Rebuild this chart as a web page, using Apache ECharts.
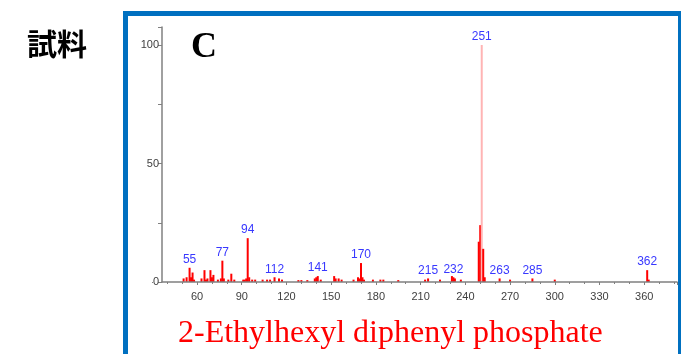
<!DOCTYPE html>
<html>
<head>
<meta charset="utf-8">
<script src="https://cdn.jsdelivr.net/npm/echarts@6/dist/echarts.min.js"></script>
<style>
html,body{margin:0;padding:0;background:#fff;}
#chart{width:681px;height:354px;}
</style>
</head>
<body>
<div id="chart"></div>
<script>
// m/z values of peaks
var mz = [51,53,55,56,57,58,63,65,66,67,69,70,71,74,76,77,78,81,83,85,91,92,93,94,95,97,99,104,107,109,112,115,117,128,130,134,139,140,141,143,152,153,155,157,165,168,169,170,171,172,178,183,185,195,213,215,223,231,232,233,237,249,250,251,252,253,263,270,285,300,362,363];
// relative intensities (%)
var intensity = [1.5,2,6,2,4,1,1.5,5,1,1.5,5,2,3,1,1.5,9,1.5,1,3.5,1,1,1,1.5,18.5,2,1,1,1,1,1,2,1.5,1,0.8,0.8,0.8,1.5,2,2.5,1,2.5,1.5,1.5,1,1,2,1.5,8,2,1,1,1,1,0.8,1,1.5,1,2.5,2,1.5,1,17,24,100,14,2,1.5,1,1.5,1,5,1];
// peaks that carry an m/z label
var labeledPeaks = [55,77,94,112,141,170,215,232,251,263,285,362];
var basePeak = 251;
var yTickLabels = [0,50,100];

// visible axis range and pixel layout
var xVisMin = 36.5, xVisMax = 382;
var tickMin = 30, tickStep = 30;
var plotLeft = 162, plotRight = 677;
var pxPerUnit = (plotRight - plotLeft) / (xVisMax - xVisMin);
var tickGridLeft = plotLeft - (xVisMin - tickMin) * pxPerUnit;

var data = mz.map(function(m, i){
  var item = {value:[m, intensity[i]]};
  if (labeledPeaks.indexOf(m) >= 0) item.label = {show:true};
  if (m === basePeak) item.itemStyle = {color:'#ffb4b4'};
  return item;
});

var axisColor = '#808080';
var labelStyle = {color:'#404040', fontSize:11, fontFamily:'Liberation Sans'};

var chart = echarts.init(document.getElementById('chart'), null, {renderer:'canvas'});
chart.setOption({
  animation:false,
  backgroundColor:'#ffffff',
  grid:[
    {left:tickGridLeft, right:681 - plotRight, top:27, bottom:72},
    {left:plotLeft, right:681 - plotRight, top:27, bottom:72}
  ],
  xAxis:[
    {
      gridIndex:0, type:'value', min:tickMin, max:xVisMax, interval:tickStep, z:0,
      axisLine:{show:false},
      axisTick:{show:true, length:3, lineStyle:{color:axisColor}},
      minorTick:{show:true, splitNumber:3, length:2, lineStyle:{color:axisColor}},
      splitLine:{show:false},
      axisLabel:Object.assign({showMinLabel:false, showMaxLabel:false, margin:9}, labelStyle)
    },
    {
      gridIndex:1, type:'value', min:xVisMin, max:xVisMax, z:3,
      axisLine:{show:true, onZero:false, lineStyle:{color:axisColor, width:1.5}},
      axisTick:{show:false}, axisLabel:{show:false}, splitLine:{show:false}
    }
  ],
  yAxis:[
    {
      gridIndex:0, type:'value', min:0, max:107.6, show:false
    },
    {
      gridIndex:1, type:'value', min:0, max:107.6, interval:25, z:3,
      axisLine:{show:true, lineStyle:{color:axisColor, width:1.5}},
      axisTick:{show:true, length:4, lineStyle:{color:axisColor}},
      splitLine:{show:false},
      axisLabel:Object.assign({margin:3,
        formatter:function(v){ return yTickLabels.indexOf(v) >= 0 ? String(v) : ''; }}, labelStyle)
    }
  ],
  series:[{
    type:'bar',
    xAxisIndex:0, yAxisIndex:0,
    barWidth:2,
    z:2,
    itemStyle:{color:'#ff0000'},
    label:{show:false, position:'top', distance:2, color:'#3838ff', fontSize:12, fontFamily:'Liberation Sans',
      formatter:function(p){ return String(p.value[0]); }},
    data:data
  }],
  graphic:[
    {type:'rect', z:-1, shape:{x:125.5, y:13.5, width:555, height:400}, style:{fill:'none', stroke:'#0070c0', lineWidth:5}},
    {type:'rect', z:1, shape:{x:tickGridLeft - 3, y:283, width:8, height:6}, style:{fill:'#ffffff'}},
    {type:'text', left:27, top:29, style:{text:'試料', fill:'#000', font:'bold 30px "Noto Sans CJK JP"'}},
    {type:'text', left:191, top:30, style:{text:'C', fill:'#000', font:'bold 36px "Liberation Serif"'}},
    {type:'text', left:178, top:318, style:{text:'2-Ethylhexyl diphenyl phosphate', fill:'#ff0000', font:'32px "Liberation Serif"'}}
  ]
});
</script>
</body>
</html>
